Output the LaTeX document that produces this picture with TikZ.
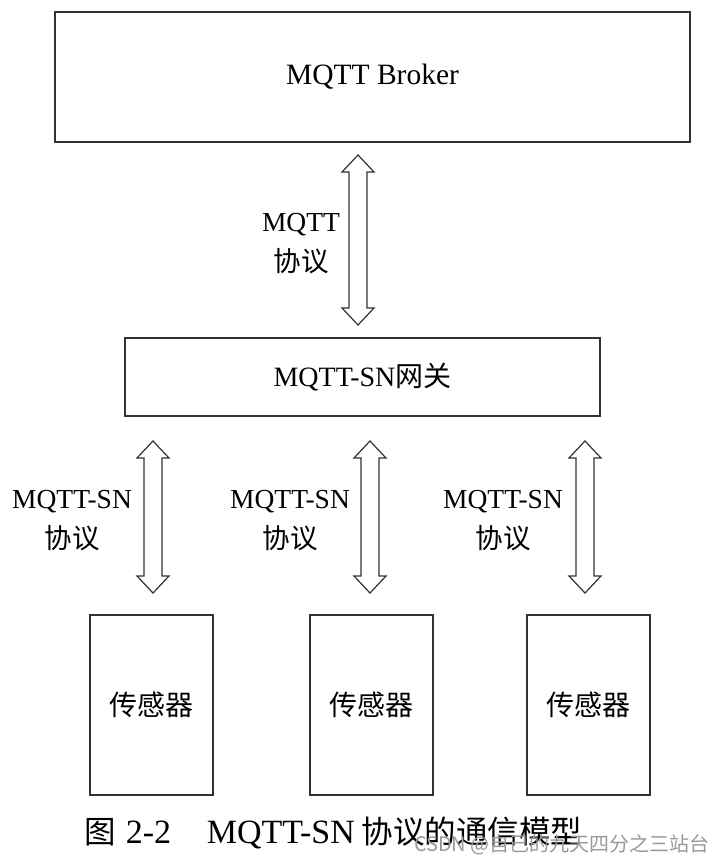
\documentclass[tikz,border=0pt]{standalone}
\usepackage{fontspec}
\setmainfont{Liberation Serif}
\newfontfamily\cjk{Noto Sans CJK SC}
\usetikzlibrary{calc}
\tikzset{
  box/.style={draw=black!80, line width=1.4pt, inner sep=0pt, font=\fontsize{28}{40}\selectfont},
  lbl/.style={align=center, inner sep=0pt, font=\fontsize{27.5}{40}\selectfont},
  arrowline/.style={draw=black!80, line width=1.2pt, line join=miter, fill=white}
}
\newcommand\hollowarrow[2]{%
  \draw[arrowline] let \p1=(#1), \p2=(#2) in
    (\x1,\y1) -- (\x1+16pt,\y1-17pt) -- (\x1+9pt,\y1-17pt) -- (\x1+9pt,\y2+17pt)
    -- (\x1+16pt,\y2+17pt) -- (\x1,\y2) -- (\x1-16pt,\y2+17pt) -- (\x1-9pt,\y2+17pt)
    -- (\x1-9pt,\y1-17pt) -- (\x1-16pt,\y1-17pt) -- cycle;}
\begin{document}
\begin{tikzpicture}[x=1pt,y=-1pt]
\useasboundingbox[fill=white] (0,0) rectangle (720,862);
% boxes
\node[box, minimum width=635pt, minimum height=130pt, font=\fontsize{29.5}{40}\selectfont] (broker) at (372.5,77) {MQTT Broker};
\node[box, minimum width=475pt, minimum height=78pt] (gw) at (362.5,377) {MQTT-SN{\cjk 网关}};
\node[box, minimum width=123pt, minimum height=180pt] (s1) at (151.5,705) {\raisebox{2pt}{\cjk 传感器}};
\node[box, minimum width=123pt, minimum height=180pt] (s2) at (371.5,705) {\raisebox{2pt}{\cjk 传感器}};
\node[box, minimum width=123pt, minimum height=180pt] (s3) at (588.5,705) {\raisebox{2pt}{\cjk 传感器}};
% arrow end points
\coordinate (a0t) at (358,155);
\coordinate (a0b) at (358,325);
\coordinate (a1t) at (153,441);
\coordinate (a1b) at (153,593);
\coordinate (a2t) at (370,441);
\coordinate (a2b) at (370,593);
\coordinate (a3t) at (585,441);
\coordinate (a3b) at (585,593);
\hollowarrow{a0t}{a0b}
\hollowarrow{a1t}{a1b}
\hollowarrow{a2t}{a2b}
\hollowarrow{a3t}{a3b}
% labels
\node[lbl] (l0) at (301,244) {MQTT\\{\cjk 协议}};
\node[lbl] (l1) at (72,521) {MQTT-SN\\{\cjk 协议}};
\node[lbl] (l2) at (290,521) {MQTT-SN\\{\cjk 协议}};
\node[lbl] (l3) at (503,521) {MQTT-SN\\{\cjk 协议}};
% caption
\node[anchor=base west, inner sep=0pt, font=\fontsize{34}{38}\selectfont] (cap) at (84,843)
  {{\fontsize{31.5}{38}\cjk 图}\hspace{0.3em}2-2\hspace{1.05em}MQTT-SN\hspace{0.2em}{\fontsize{31.5}{38}\cjk 协议的通信模型}};
\node[anchor=east, inner sep=0pt, text=black!40, font=\fontsize{20}{24}\selectfont\cjk] (wm) at (710,845)
  {CSDN @自己的九天四分之三站台};
\end{tikzpicture}
\end{document}
